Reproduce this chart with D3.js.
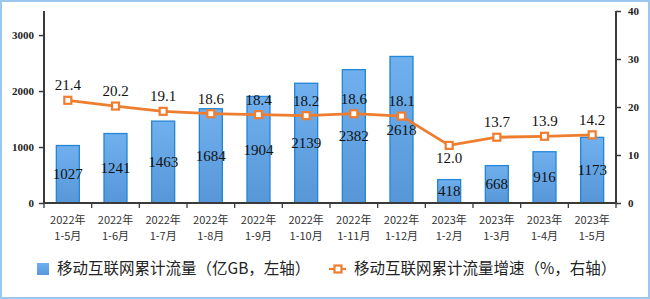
<!DOCTYPE html>
<html><head><meta charset="utf-8">
<script src="https://cdn.jsdelivr.net/npm/d3@7"></script>
<style>
html,body{margin:0;padding:0;background:#fff;}
svg{display:block;}
</style></head>
<body>
<svg id="chart" width="650" height="299"></svg>
<script>
const years = ["2022年","2022年","2022年","2022年","2022年","2022年","2022年","2022年","2023年","2023年","2023年","2023年"];
const periods = ["1-5月","1-6月","1-7月","1-8月","1-9月","1-10月","1-11月","1-12月","1-2月","1-3月","1-4月","1-5月"];
const traffic = [1027,1241,1463,1684,1904,2139,2382,2618,418,668,916,1173];
const growth = [21.4,20.2,19.1,18.6,18.4,18.2,18.6,18.1,12.0,13.7,13.9,14.2];
const leftTicks = [0,1000,2000,3000];
const rightTicks = [0,10,20,30,40];
const seriesNames = ["移动互联网累计流量（亿GB，左轴）","移动互联网累计流量增速（%，右轴）"];

const svg = d3.select("#chart");
const W = 650, H = 299;
const m = {left:44, right:34, top:11, bottom:96};
const x0 = m.left, x1 = W - m.right, y0 = H - m.bottom, yTop = m.top;

svg.append("rect").attr("x",1).attr("y",1).attr("width",W-2).attr("height",H-2)
  .attr("fill","#fff").attr("stroke","#9cc8ef").attr("stroke-width",2);

const defs = svg.append("defs");
const grad = defs.append("linearGradient").attr("id","barg").attr("x1",0).attr("y1",0).attr("x2",0).attr("y2",1);
grad.append("stop").attr("offset","0%").attr("stop-color","#70b0ee");
grad.append("stop").attr("offset","100%").attr("stop-color","#5797d8");

const keys = d3.range(traffic.length);
const x = d3.scaleBand().domain(keys).range([x0,x1]).paddingInner(0).paddingOuter(0);
const yL = d3.scaleLinear().domain([0,3430]).range([y0,yTop]);
const yR = d3.scaleLinear().domain([0,40]).range([y0,yTop]);

const barW = 23;
// bars
svg.append("g").selectAll("rect").data(traffic).join("rect")
  .attr("x",(d,i)=>x(i)+x.bandwidth()/2-barW/2)
  .attr("y",d=>yL(d))
  .attr("width",barW)
  .attr("height",d=>y0-yL(d))
  .attr("fill","url(#barg)")
  .attr("stroke","#2585d6").attr("stroke-width",1.3);

// bar labels
svg.append("g").selectAll("text").data(traffic).join("text")
  .attr("x",(d,i)=>x(i)+x.bandwidth()/2)
  .attr("y",d=>(yL(d)+y0)/2+5)
  .attr("text-anchor","middle")
  .attr("font-family","'Liberation Serif','Times New Roman',serif")
  .attr("font-size",15).attr("fill","#111")
  .text(d=>d);

// axes
const axisColor = "#3a3a3a";
const gL = svg.append("g").attr("transform",`translate(${x0},0)`)
  .call(d3.axisLeft(yL).tickValues(leftTicks).tickFormat(d3.format("d")).tickSize(5).tickPadding(5));
const gR = svg.append("g").attr("transform",`translate(${x1},0)`)
  .call(d3.axisRight(yR).tickValues(rightTicks).tickFormat(d3.format("d")).tickSize(5).tickPadding(7));
[gL,gR].forEach(g=>{
  g.selectAll(".tick line").attr("stroke",axisColor).attr("stroke-width",1.5);
  g.selectAll(".tick text").attr("font-family","'Liberation Serif','Times New Roman',serif")
    .attr("font-weight","bold").attr("font-size",11).attr("fill","#222");
});
gL.select(".domain").remove();
gR.select(".domain").remove();
svg.append("line").attr("x1",x0).attr("x2",x0).attr("y1",yTop).attr("y2",y0+1).attr("stroke",axisColor).attr("stroke-width",2);
svg.append("line").attr("x1",x1).attr("x2",x1).attr("y1",yTop).attr("y2",y0+1).attr("stroke",axisColor).attr("stroke-width",2);

// bottom axis
const bottomTicks = d3.range(traffic.length+1).map(i=> i<traffic.length ? x(i) : x1);
svg.append("line").attr("x1",x0).attr("x2",x1).attr("y1",y0).attr("y2",y0).attr("stroke",axisColor).attr("stroke-width",2);
svg.append("g").selectAll("line").data(bottomTicks).join("line")
  .attr("x1",d=>d).attr("x2",d=>d).attr("y1",y0).attr("y2",y0+5)
  .attr("stroke",axisColor).attr("stroke-width",1.3);

// x labels
const xl = svg.append("g").selectAll("text").data(keys).join("text")
  .attr("text-anchor","middle")
  .attr("font-family","'Noto Sans CJK SC',sans-serif")
  .attr("font-size",11).attr("fill","#333");
xl.append("tspan").attr("x",i=>x(i)+x.bandwidth()/2).attr("y",224).text(i=>years[i]);
xl.append("tspan").attr("x",i=>x(i)+x.bandwidth()/2).attr("y",240).text(i=>periods[i]);

// line
const lineGen = d3.line().x((d,i)=>x(i)+x.bandwidth()/2).y(d=>yR(d));
svg.append("path").datum(growth).attr("d",lineGen)
  .attr("fill","none").attr("stroke","#ee7d2f").attr("stroke-width",2.8);
svg.append("g").selectAll("rect").data(growth).join("rect")
  .attr("x",(d,i)=>x(i)+x.bandwidth()/2-3.5)
  .attr("y",d=>yR(d)-3.5)
  .attr("width",7).attr("height",7)
  .attr("fill","#fff").attr("stroke","#ee7d2f").attr("stroke-width",2.2);
svg.append("g").selectAll("text").data(growth).join("text")
  .attr("x",(d,i)=>x(i)+x.bandwidth()/2)
  .attr("y",(d,i)=> i===8 ? yR(d)+18 : yR(d)-10)
  .attr("text-anchor","middle")
  .attr("font-family","'Liberation Serif','Times New Roman',serif")
  .attr("font-size",15).attr("fill","#111")
  .text(d=>d.toFixed(1));

// legend
const lg = svg.append("g");
lg.append("rect").attr("x",37).attr("y",263).attr("width",12).attr("height",12).attr("fill","url(#barg)");
lg.append("text").attr("x",57).attr("y",274).attr("font-family","'Noto Sans CJK SC',sans-serif")
  .attr("font-size",15.5).attr("fill","#222").text(seriesNames[0]);
lg.append("line").attr("x1",329).attr("x2",346).attr("y1",269).attr("y2",269).attr("stroke","#ee7d2f").attr("stroke-width",2.2);
lg.append("rect").attr("x",334.5).attr("y",265.5).attr("width",7).attr("height",7).attr("fill","#fff").attr("stroke","#ee7d2f").attr("stroke-width",2.2);
lg.append("text").attr("x",354).attr("y",274).attr("font-family","'Noto Sans CJK SC',sans-serif")
  .attr("font-size",15.5).attr("fill","#222").text(seriesNames[1]);
</script>
</body></html>
